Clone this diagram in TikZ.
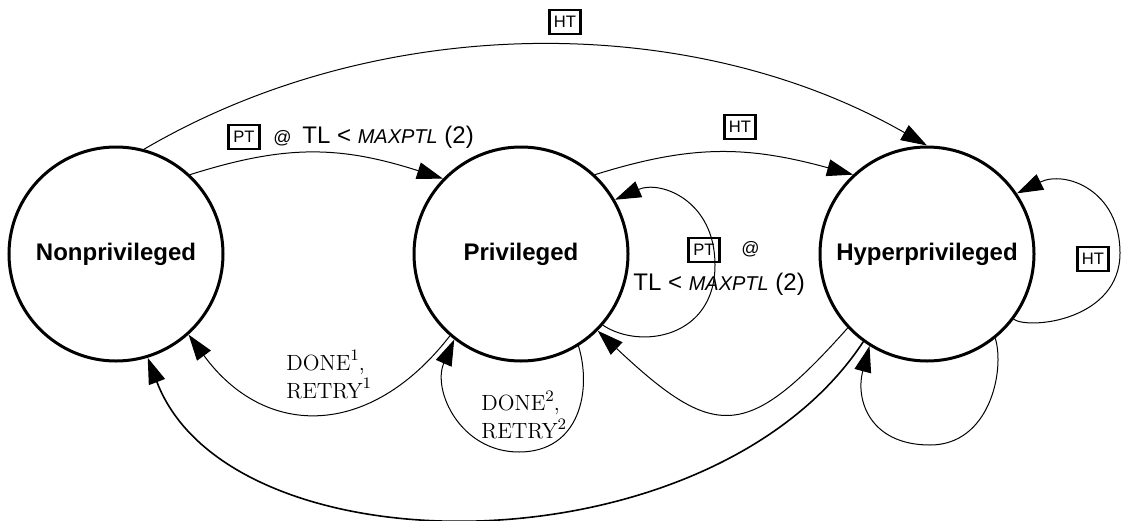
\documentclass[tikz,border=0pt]{standalone}
\usepackage{fontspec}
\setsansfont{Liberation Sans}
\usetikzlibrary{arrows.meta}
\newcommand\tlmaxlabel{{\sffamily\fontsize{12}{14}\selectfont TL <} {\sffamily\itshape\fontsize{10}{12}\selectfont MAXPTL} {\sffamily\fontsize{12}{14}\selectfont (2)}}
\newcommand\supnum[1]{\raisebox{0.95ex}{\fontsize{8}{9}\selectfont #1}}
\begin{document}
\begin{tikzpicture}[x=0.5pt,y=-0.5pt,
  state/.style={circle,draw,line width=1.5pt,minimum size=107pt,inner sep=0pt,font={\sffamily\bfseries\fontsize{12}{14}\selectfont}},
  tbox/.style={draw,line width=1.2pt,inner sep=0pt,minimum width=15.5pt,minimum height=12pt,font={\sffamily\fontsize{8.3}{9}\selectfont}},
  edge/.style={line width=0.5pt,-{Triangle[length=13pt,width=8.5pt]}},
  bigedge/.style={line width=0.8pt,-{Triangle[length=13pt,width=8.5pt]}},
  lbl/.style={inner sep=0pt,anchor=base west},
  atlbl/.style={lbl,font={\sffamily\fontsize{9}{10}\selectfont}},
  serlbl/.style={lbl,font={\fontsize{11}{13}\selectfont}}]
\useasboundingbox (0,0) rectangle (1124,520);

\node[state] (N) at (116,254) {Nonprivileged};
\node[state] (P) at (521,254) {Privileged};
\node[state] (H) at (927,254) {Hyperprivileged};

% top long arc N -> H
\draw[edge] (N.75) .. controls (380,11) and (692,11) .. (H.90);
\node[tbox] (htTop) at (565,22) {HT};

% N -> P
\draw[edge] (N.47) .. controls (284,145) and (338,145) .. (P.136);
\node[tbox] (ptA) at (244,137) {PT};
\node[atlbl] (atA) at (273,143) {@};
\node[lbl] (tlA) at (302,143) {\tlmaxlabel};

% P -> H
\draw[edge] (P.47) .. controls (690,145) and (745,145) .. (H.133);
\node[tbox] (htB) at (740,127) {HT};

% P self loop right
\draw[edge] (P.-41) .. controls (640,350) and (715,338) .. (715,265)
  .. controls (715,200) and (660,180) .. (P.30);
\node[tbox] (ptC) at (704,250) {PT};
\node[atlbl] (atC) at (741,254) {@};
\node[lbl] (tlC) at (633,290) {\tlmaxlabel};

% P -> N
\draw[edge] (P.-131) .. controls (370,439) and (265,439) .. (N.-48);
\node[serlbl] (d1) at (286,370) {DONE\supnum{1},};
\node[serlbl] (r1) at (286,398) {RETRY\supnum{1}};

% P self loop bottom
\draw[edge] (P.-58) .. controls (592,390) and (580,452) .. (519,452)
  .. controls (460,452) and (432,390) .. (P.-128);
\node[serlbl] (d2) at (481,410) {DONE\supnum{2},};
\node[serlbl] (r2) at (481,438) {RETRY\supnum{2}};

% H -> P lower
\draw[edge] (H.-137) .. controls (747,441) and (715,441) .. (P.-45);

% H -> N big bottom arc
\draw[bigedge] (H.-126) .. controls (710,574) and (230,574) .. (N.-73);

% H self loop bottom
\draw[edge] (H.-51) .. controls (1005,370) and (990,445) .. (930,445)
  .. controls (870,445) and (855,400) .. (H.-122);

% H self loop right
\draw[edge] (H.-37) .. controls (1030,330) and (1120,320) .. (1120,253)
  .. controls (1120,190) and (1065,170) .. (H.34);
\node[tbox] (htD) at (1093,259) {HT};
\end{tikzpicture}
\end{document}
